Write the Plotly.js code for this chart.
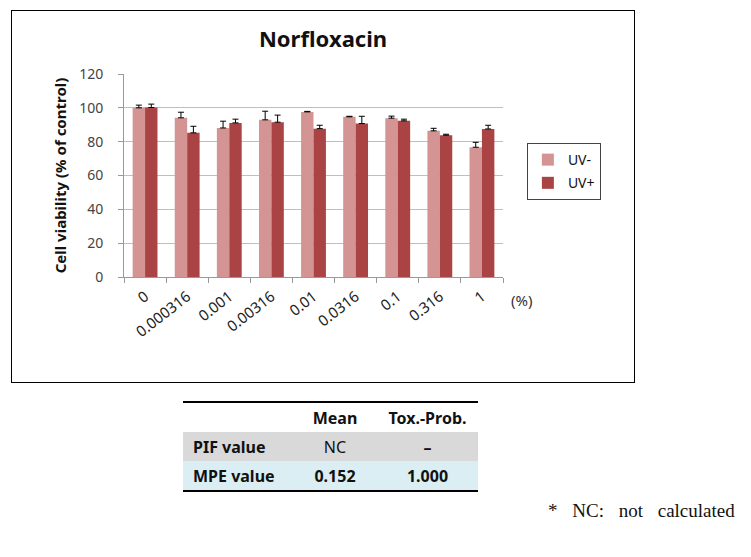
<!DOCTYPE html>
<html>
<head>
<meta charset="utf-8">
<script src="https://cdn.plot.ly/plotly-3.0.1.min.js"></script>
<style>
  body { margin: 0; background: #fff; width: 751px; height: 557px; position: relative; }
  #frame { position: absolute; left: 11px; top: 10px; width: 624px; height: 373px;
           border: 1px solid #000; box-sizing: border-box; }
  #chart { width: 622px; height: 371px; }
  #tbl { position: absolute; left: 183px; top: 401px; border-collapse: collapse;
         font-family: 'Noto Sans', sans-serif; font-size: 16px; font-weight: bold; color: #111; }
  #tbl td { padding: 0; height: 29px; }
  #tbl tr.head td { border-top: 2px solid #000; }
  #tbl tr.last td { border-bottom: 2px solid #000; }
  #note { position: absolute; left: 548px; top: 500px; font-family: 'Liberation Serif', serif;
          font-size: 19px; word-spacing: 10px; color: #111; }
</style>
</head>
<body>
<div id="frame"><div id="chart"></div></div>
<table id="tbl"></table>
<div id="note">* NC: not calculated</div>
<script>
/* ---- data ---- */
const DOSES = ['0', '0.000316', '0.001', '0.00316', '0.01', '0.0316', '0.1', '0.316', '1'];
const UV_MINUS = [100.0, 94.1, 88.1, 92.9, 97.6, 94.7, 93.9, 86.4, 76.7];
const UV_MINUS_ERR = [1.6, 3.3, 4.0, 5.1, 0.3, 0.3, 1.2, 1.5, 2.9];
const UV_PLUS = [100.2, 85.2, 91.1, 91.5, 87.7, 90.7, 92.3, 83.8, 87.5];
const UV_PLUS_ERR = [2.0, 3.9, 2.2, 4.2, 2.0, 4.3, 1.0, 0.6, 2.2];
const NO_ERR = [0, 0, 0, 0, 0, 0, 0, 0, 0];

const TABLE_HEAD = ['', 'Mean', 'Tox.-Prob.'];
const TABLE_ROWS = [
  ['PIF value', 'NC', '\u2013'],
  ['MPE value', '0.152', '1.000'],
];
const ROW_COLORS = ['#D9D9D9', '#DAEEF3'];

const COLORS = { minus: '#D39493', plus: '#AA4444' };

/* ---- chart ---- */
function barTrace(name, y, err, color, group) {
  return {
    x: DOSES, y: y, type: 'bar', name: name,
    legendgroup: group,
    marker: { color: color, line: { width: 0 } },
    error_y: { type: 'data', symmetric: false, array: err, arrayminus: NO_ERR,
               color: '#000', thickness: 1, width: 3 },
  };
}

const traces = [
  barTrace('UV-', UV_MINUS, UV_MINUS_ERR, COLORS.minus, 'a'),
  barTrace('UV+', UV_PLUS, UV_PLUS_ERR, COLORS.plus, 'b'),
];

const FONT = "'Noto Sans', sans-serif";

const layout = {
  width: 622, height: 371,
  margin: { l: 112, r: 131, t: 63, b: 105 },
  paper_bgcolor: '#fff', plot_bgcolor: '#fff',
  font: { family: FONT, size: 14, color: '#333' },
  barmode: 'group', bargap: 0.41, bargroupgap: 0,
  title: { text: '<b>Norfloxacin</b>', x: 0.5, xref: 'container', y: 0.925, yref: 'container',
           yanchor: 'middle', font: { family: FONT, size: 22, color: '#111' } },
  xaxis: {
    type: 'category', tickangle: -38, showline: true, linecolor: '#999', linewidth: 1,
    ticks: 'outside', tickson: 'boundaries', ticklen: 5, tickcolor: '#999',
    ticklabelstandoff: 4,
    tickfont: { family: FONT, size: 15, color: '#222' }, showgrid: false,
  },
  yaxis: {
    range: [0, 120], dtick: 20, showline: true, linecolor: '#999', linewidth: 1,
    ticks: 'outside', ticklen: 5, tickcolor: '#999', ticklabelstandoff: 12,
    showgrid: true, gridcolor: '#BFBFBF', gridwidth: 1, zeroline: false,
    tickfont: { family: FONT, size: 14, color: '#444' },
    title: { text: '<b>Cell viability (% of control)</b>', standoff: 8,
             font: { family: FONT, size: 15, color: '#111' } },
  },
  legend: {
    x: 1.063, xanchor: 'left', y: 0.66, yanchor: 'top',
    bordercolor: '#444', borderwidth: 1, bgcolor: '#fff',
    font: { family: FONT, size: 14, color: '#111' },
    traceorder: 'grouped', tracegroupgap: 2,
  },
  annotations: [{
    text: '(%)', xref: 'paper', yref: 'paper', x: 1.05, y: -0.113,
    xanchor: 'center', yanchor: 'middle', showarrow: false,
    font: { family: FONT, size: 15, color: '#333' },
  }],
};

Plotly.newPlot('chart', traces, layout, { displayModeBar: false, staticPlot: true });

/* ---- table ---- */
const tbl = document.getElementById('tbl');
const widths = [100, 84, 101];
function addRow(cells, cls, bg) {
  const tr = document.createElement('tr');
  if (cls) tr.className = cls;
  cells.forEach((c, i) => {
    const td = document.createElement('td');
    td.textContent = c;
    td.style.width = widths[i] + 'px';
    td.style.textAlign = i === 0 ? 'left' : 'center';
    if (i === 0) td.style.paddingLeft = '10px';
    if (i === 1) td.style.fontWeight = cls === 'mid' ? 'normal' : 'bold';
    if (bg) td.style.background = bg;
    tr.appendChild(td);
  });
  tbl.appendChild(tr);
}
addRow(TABLE_HEAD, 'head', null);
TABLE_ROWS.forEach((r, i) => addRow(r, i === TABLE_ROWS.length - 1 ? 'last' : 'mid', ROW_COLORS[i]));
</script>
</body>
</html>
